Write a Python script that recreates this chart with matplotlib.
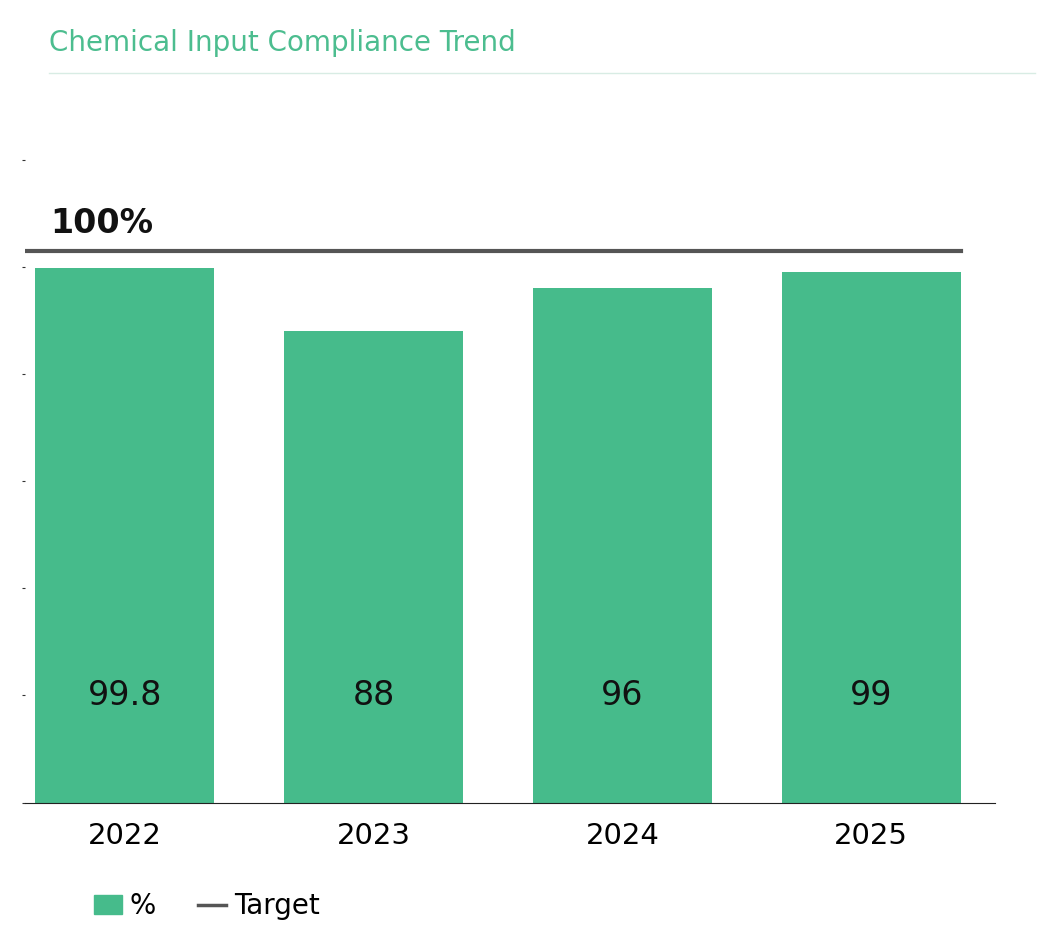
import matplotlib.pyplot as plt
from matplotlib.lines import Line2D
from matplotlib.patches import Patch

years = ['2022', '2023', '2024', '2025']
values = [99.8, 88, 96, 99]
target = 100

green = '#46bb8b'

fig = plt.figure(figsize=(10.59, 9.51), dpi=100)
ax = fig.add_axes([0.024, 0.156, 0.916, 0.676])

x = range(len(years))
ax.bar(x, values, width=0.72, color=green, zorder=2)
for xi, v in zip(x, values):
    ax.text(xi, 20, f'{v:g}', ha='center', va='center', fontsize=24, fontweight='medium', color='#111111')

ax.plot([-0.4, 3.36], [target + 3, target + 3], color='#555555', lw=3, zorder=3)
ax.text(-0.3, target + 5, f'{target}%', fontsize=24, fontweight='bold', color='#111111', va='bottom')

ax.set_xlim(-0.4, 3.5)
ax.set_ylim(0, 120)
ax.set_yticks(range(0, 121, 20))
ax.set_yticklabels([])
ax.tick_params(axis='y', length=2, color='#333333')
ax.set_xticks(list(x))
ax.set_xticklabels(years, fontsize=21)
ax.tick_params(axis='x', length=0, pad=14)
for s in ['top', 'right', 'left']:
    ax.spines[s].set_visible(False)
ax.spines['bottom'].set_color('#222222')

fig.text(0.046, 0.955, 'Chemical Input Compliance Trend', fontsize=20, color='#4cbd8f', va='center')
fig.add_artist(Line2D([0.046, 0.977], [0.923, 0.923], color='#d8ece4', lw=1))

handles = [Patch(color=green, label='%'), Line2D([], [], color='#555555', lw=2.5, label='Target')]
fig.legend(handles=handles, loc='center left', bbox_to_anchor=(0.065, 0.047), ncol=2, frameon=False,
           fontsize=20, handlelength=1.0, handletextpad=0.3, columnspacing=1.5)

fig.savefig('out.png', dpi=100)
